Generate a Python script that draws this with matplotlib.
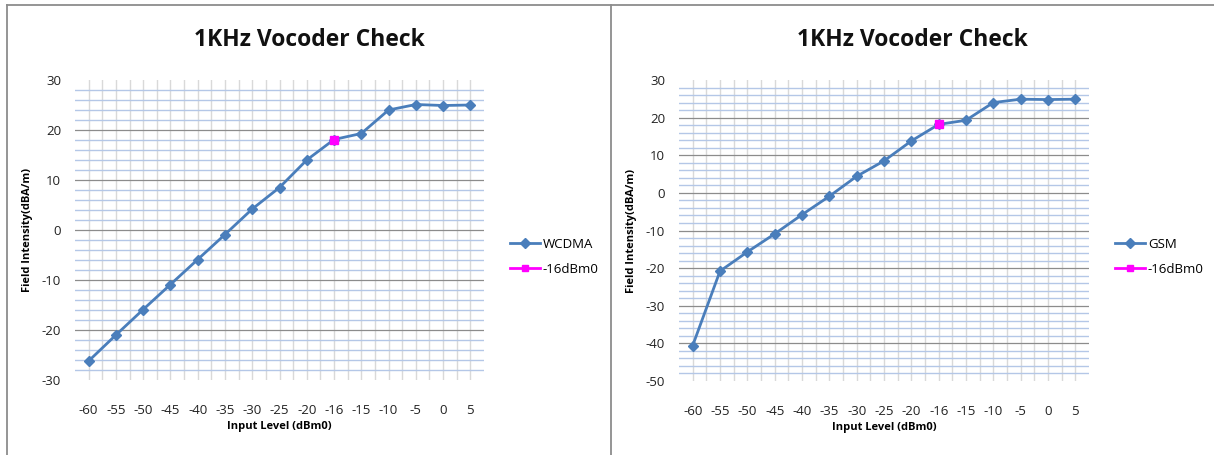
import numpy as np
import matplotlib.pyplot as plt
from matplotlib.lines import Line2D

# Input level categories (equally spaced on the x axis, Excel category style)
levels = ['-60', '-55', '-50', '-45', '-40', '-35', '-30', '-25',
          '-20', '-16', '-15', '-10', '-5', '0', '5']

wcdma = [-26.2, -21.0, -15.9, -10.9, -5.9, -0.9, 4.2, 8.5,
         14.0, 18.1, 19.3, 24.0, 25.1, 24.9, 25.0]
gsm = [-40.6, -20.8, -15.7, -10.9, -5.8, -0.9, 4.4, 8.5,
       13.8, 18.2, 19.3, 24.0, 24.9, 24.8, 24.9]

ref_level = '-16'
title = '1KHz Vocoder Check'

LINE_BLUE = '#4a7ebb'
MAGENTA = '#ff00ff'
FONT = ['Open Sans', 'DejaVu Sans']

plt.rcParams['font.family'] = FONT


def draw_panel(fig, rect, values, name, ylim, title_x, legend_x):
    ax = fig.add_axes(rect)
    x = np.arange(len(levels))
    ax.set_xlim(-0.5, len(levels) - 0.5)
    ax.set_ylim(*ylim)

    # grid: light grey verticals at categories and category edges
    ax.set_xticks(x)
    ax.set_xticklabels(levels, fontsize=9.5, color='#222222')
    ax.set_xticks(np.arange(0.5, len(levels) - 1, 1.0), minor=True)
    ax.grid(True, which='both', axis='x', color='#d9d9d9', lw=1.0)

    ax.set_yticks(np.arange(ylim[0], ylim[1] + 1, 10))
    ax.set_yticklabels([str(v) for v in range(ylim[0], ylim[1] + 1, 10)],
                       fontsize=9.5, color='#222222')
    minor_y = [v for v in range(ylim[0] + 2, ylim[1], 2) if v % 10 != 0]
    ax.set_yticks(minor_y, minor=True)
    ax.grid(True, which='minor', axis='y', color='#b4c7e7', lw=1.0)
    ax.grid(True, which='major', axis='y', color='#8c8c8c', lw=0.9)
    ygl = ax.get_ygridlines()
    ygl[0].set_visible(False)
    ygl[-1].set_visible(False)

    ax.tick_params(which='both', length=0)
    ax.tick_params(axis='x', pad=17)
    ax.tick_params(axis='y', pad=10)
    for s in ax.spines.values():
        s.set_visible(False)
    ax.set_axisbelow(True)

    ax.plot(x, values, color=LINE_BLUE, lw=2, marker='D', ms=5.5,
            mec=LINE_BLUE, mfc=LINE_BLUE)
    i = levels.index(ref_level)
    ax.plot([x[i]], [values[i]], ls='none', marker='s', ms=5.5,
            color=MAGENTA, mec=MAGENTA)

    ax.set_xlabel('Input Level (dBm0)', fontsize=8, fontweight='bold',
                  labelpad=3)
    ax.set_ylabel('Field Intensity(dBA/m)', fontsize=8, fontweight='bold',
                  labelpad=6)

    fig.text(title_x, 1 - 40 / 455, title, fontsize=16.5, fontweight='bold',
             ha='center', va='center', color='#111111')

    handles = [
        Line2D([], [], color=LINE_BLUE, lw=2, marker='D', ms=5),
        Line2D([], [], color=MAGENTA, lw=2, marker='s', ms=5),
    ]
    fig.legend(handles, [name, '-16dBm0'], loc='center left',
               bbox_to_anchor=(legend_x, 1 - 257 / 455), frameon=False,
               fontsize=9.5, handlelength=2.3, handletextpad=0.2,
               labelspacing=0.9)
    return ax


fig = plt.figure(figsize=(12.14, 4.55), dpi=100)

draw_panel(fig, [75 / 1214, 1 - 380 / 455, 409 / 1214, 300 / 455],
           wcdma, 'WCDMA', (-30, 30), 309 / 1214, 498 / 1214)
draw_panel(fig, [679 / 1214, 1 - 381 / 455, 410 / 1214, 301 / 455],
           gsm, 'GSM', (-50, 30), 912 / 1214, 1103 / 1214)

# chart area borders
border = '#8c8c8c'
fig.add_artist(Line2D([7 / 1214, 1], [1 - 5 / 455, 1 - 5 / 455],
                      color=border, lw=1.3, transform=fig.transFigure))
fig.add_artist(Line2D([7 / 1214, 7 / 1214], [0, 1 - 5 / 455],
                      color=border, lw=1.3, transform=fig.transFigure))
fig.add_artist(Line2D([611 / 1214, 611 / 1214], [0, 1 - 5 / 455],
                      color=border, lw=1.3, transform=fig.transFigure))

fig.savefig('out.png', dpi=100)
